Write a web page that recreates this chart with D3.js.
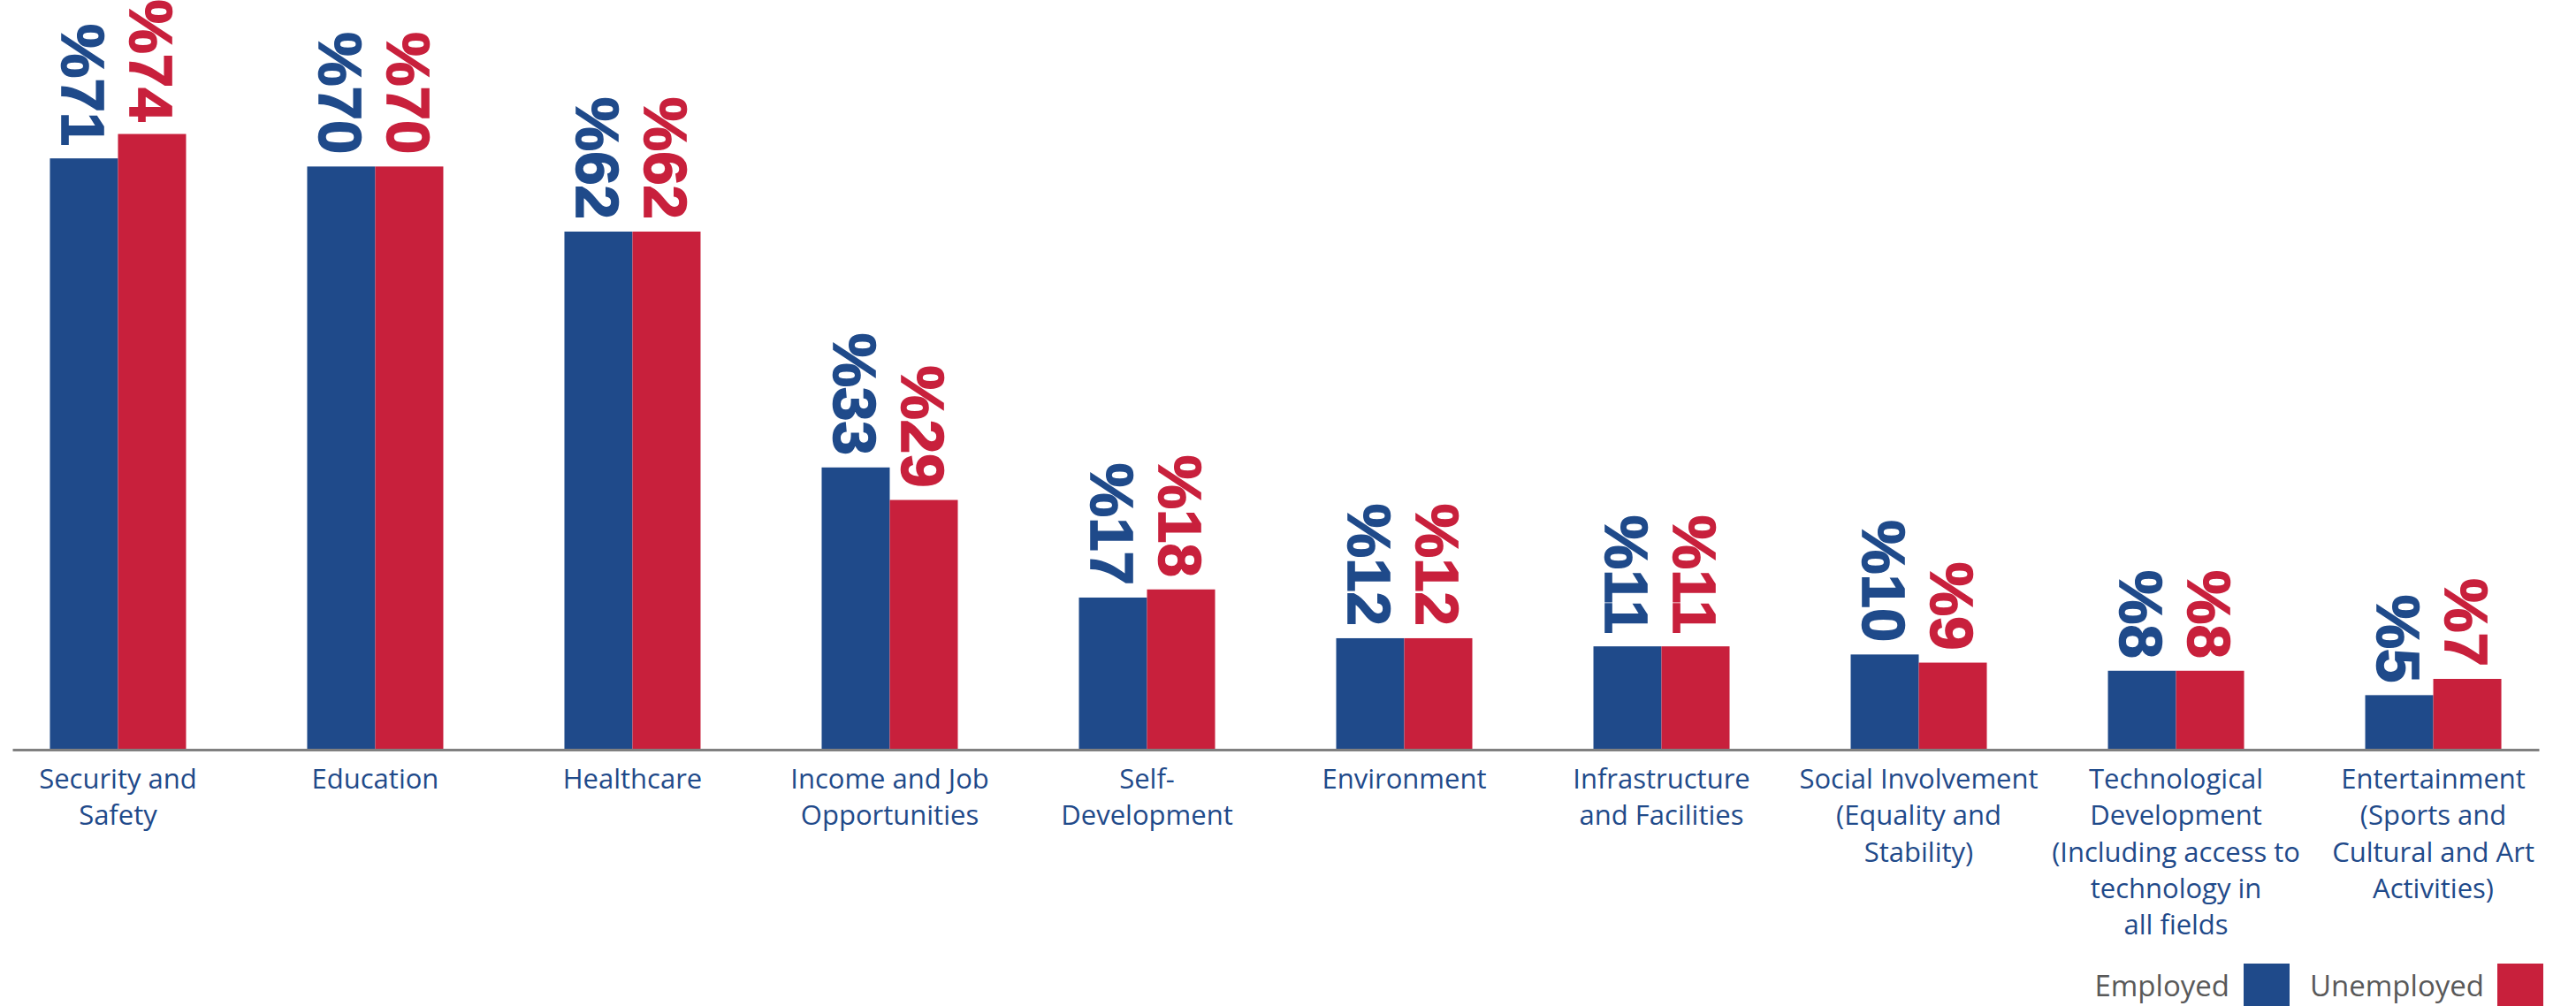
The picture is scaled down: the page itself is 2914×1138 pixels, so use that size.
<!DOCTYPE html>
<html>
<head>
<meta charset="utf-8">
<script src="https://cdn.jsdelivr.net/npm/d3@7"></script>
<style>
  body { margin: 0; background: #fff; }
  .cat-label { font-family: "Open Sans", sans-serif; font-size: 31px; fill: #1f4a8a; }
  .val-label { font-family: "Liberation Sans Narrow", "Liberation Sans", sans-serif; font-weight: bold; font-size: 69px; stroke-width: 1.6px; }
  .legend text { font-family: "Open Sans", sans-serif; font-size: 33px; fill: #595959; }
</style>
</head>
<body>
<div class="chart"></div>
<script>
var svgWidth = 2914;
var svgHeight = 1138;

// chart data
var categories = ["Security and Safety", "Education", "Healthcare", "Income and Job Opportunities",
  "Self-Development", "Environment", "Infrastructure and Facilities", "Social Involvement",
  "Technological Development", "Entertainment"];
var employed = [71, 70, 62, 33, 17, 12, 11, 10, 8, 5];
var unemployed = [74, 70, 62, 29, 18, 12, 11, 9, 8, 7];
var tickLines = [
  ["Security and", "Safety"],
  ["Education"],
  ["Healthcare"],
  ["Income and Job", "Opportunities"],
  ["Self-", "Development"],
  ["Environment"],
  ["Infrastructure", "and Facilities"],
  ["Social Involvement", "(Equality and", "Stability)"],
  ["Technological", "Development", "(Including access to", "technology in", "all fields"],
  ["Entertainment", "(Sports and", "Cultural and Art", "Activities)"]
];
var seriesNames = ["Employed", "Unemployed"];
var colors = ["#1f4a8a", "#c8203c"];

var baseY = 848;

var svg = d3.select(".chart")
  .append("svg")
  .attr("width", svgWidth)
  .attr("height", svgHeight);

var data = categories.map(function(c, i) {
  return { cat: c, values: [employed[i], unemployed[i]] };
});

// scales
var x0 = d3.scaleBand()
  .domain(categories)
  .range([14, 2872])
  .paddingInner(0.4708)
  .paddingOuter(0.1459);

var x1 = d3.scaleBand()
  .domain(seriesNames)
  .range([0, x0.bandwidth()]);

// axis floor sits a little under zero, as in the source chart
var y = d3.scaleLinear()
  .domain([-1.7, 80])
  .range([baseY, baseY - 81.7 * 9.2]);

// bar groups
var groups = svg.selectAll(".cat")
  .data(data)
  .enter().append("g")
  .attr("class", "cat")
  .attr("transform", d => `translate(${x0(d.cat)},0)`);

groups.selectAll("rect")
  .data(d => d.values.map((v, j) => ({ key: seriesNames[j], v: v, j: j })))
  .enter().append("rect")
  .attr("x", d => x1(d.key))
  .attr("y", d => y(d.v))
  .attr("width", x1.bandwidth())
  .attr("height", d => baseY - y(d.v))
  .attr("fill", d => colors[d.j]);

// rotated value labels
groups.selectAll(".val-label")
  .data(d => d.values.map((v, j) => ({ key: seriesNames[j], v: v, j: j })))
  .enter().append("text")
  .attr("class", "val-label")
  .attr("transform", d => `translate(${x1(d.key) + x1.bandwidth() / 2},${y(d.v) - 14}) rotate(90)`)
  .attr("text-anchor", "end")
  .attr("dy", "0.36em")
  .attr("fill", d => colors[d.j])
  .attr("stroke", d => colors[d.j])
  .text(d => "%" + d.v);

// x axis
var xAxis = svg.append("g")
  .attr("class", "x-axis")
  .attr("transform", `translate(0,${baseY})`)
  .call(d3.axisBottom(x0).tickSize(0).tickSizeOuter(0));

xAxis.select(".domain")
  .attr("stroke", "#808080")
  .attr("stroke-width", 3);

xAxis.selectAll(".tick text").each(function(d, i) {
  var t = d3.select(this);
  t.text(null)
    .attr("class", "cat-label")
    .attr("y", 0)
    .attr("dy", null)
    .attr("fill", null);
  tickLines[i].forEach(function(line, k) {
    t.append("tspan")
      .attr("x", 0)
      .attr("y", 44 + k * 41.3)
      .text(line);
  });
});
xAxis.attr("font-size", null).attr("font-family", null);

// legend
var legend = svg.append("g").attr("class", "legend");
var legendItems = [
  { name: "Employed", textX: 2522, boxX: 2538, color: colors[0] },
  { name: "Unemployed", textX: 2810, boxX: 2825, color: colors[1] }
];
legendItems.forEach(function(d) {
  legend.append("text")
    .attr("x", d.textX)
    .attr("y", 1127)
    .attr("text-anchor", "end")
    .text(d.name);
  legend.append("rect")
    .attr("x", d.boxX)
    .attr("y", 1090)
    .attr("width", 52)
    .attr("height", 50)
    .attr("fill", d.color);
});
</script>
</body>
</html>
